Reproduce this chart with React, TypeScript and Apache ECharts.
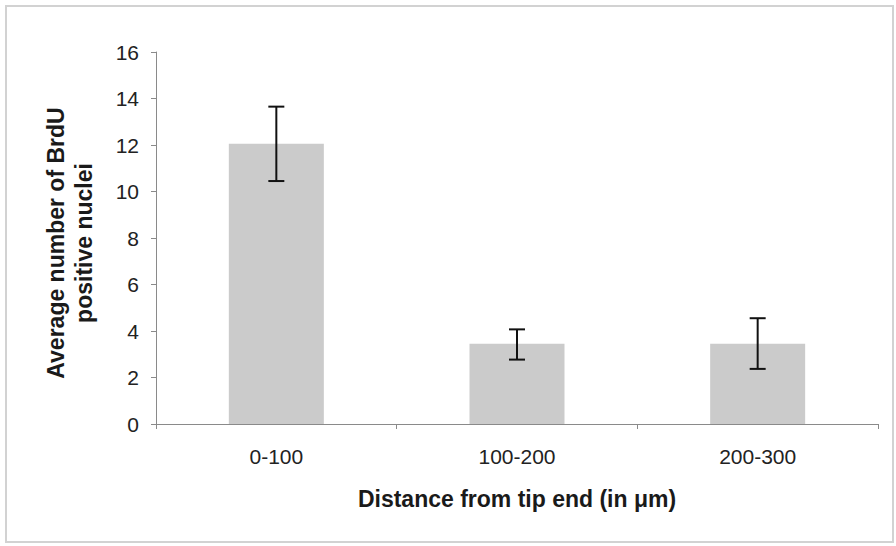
import React, { useEffect, useRef } from "react";
import * as echarts from "echarts";

const categories = ["0-100", "100-200", "200-300"];
const meanValues = [12.05, 3.45, 3.45];
const errorLow = [10.45, 2.77, 2.37];
const errorHigh = [13.65, 4.07, 4.55];

export default function App() {
  const ref = useRef<HTMLDivElement>(null);
  useEffect(() => {
    if (!ref.current) return;
    const chart = echarts.init(ref.current, null, { renderer: "svg" });
    const font = "'Liberation Sans', Arial, sans-serif";
    chart.setOption({
      animation: false,
      backgroundColor: "#ffffff",
      graphic: [
        {
          type: "rect",
          shape: { x: 6, y: 6, width: 887, height: 536 },
          style: { fill: "none", stroke: "#d2d2d2", lineWidth: 2 },
          silent: true,
        },
      ],
      grid: { left: 156, right: 18, top: 52, bottom: 122 },
      xAxis: {
        type: "category",
        data: categories,
        name: "Distance from tip end (in μm)",
        nameLocation: "middle",
        nameGap: 63,
        nameTextStyle: { fontFamily: font, fontWeight: "bold", fontSize: 23, color: "#1a1a1a" },
        axisLine: { lineStyle: { color: "#8a8a8a", width: 1 } },
        axisTick: { show: true, alignWithLabel: false, length: 5, lineStyle: { color: "#8a8a8a" } },
        axisLabel: { fontFamily: font, fontSize: 21, color: "#222", margin: 22 },
      },
      yAxis: {
        type: "value",
        min: 0,
        max: 16,
        interval: 2,
        name: "Average number of BrdU\npositive nuclei",
        nameLocation: "middle",
        nameGap: 58,
        nameTextStyle: {
          fontFamily: font,
          fontWeight: "bold",
          fontSize: 23,
          color: "#1a1a1a",
          lineHeight: 28,
          padding: [0, 10, 0, 0],
        },
        axisLine: { show: true, lineStyle: { color: "#8a8a8a", width: 1 } },
        axisTick: { show: true, length: 5, lineStyle: { color: "#8a8a8a" } },
        axisLabel: { fontFamily: font, fontSize: 21, color: "#222", margin: 17 },
        splitLine: { show: false },
      },
      series: [
        {
          type: "bar",
          data: meanValues,
          barWidth: 95,
          itemStyle: { color: "#cbcbcb" },
        },
        {
          type: "custom",
          data: categories.map((_, i) => [i, errorLow[i], errorHigh[i]]),
          renderItem: (params: any, api: any) => {
            const i = api.value(0);
            const lo = api.coord([i, api.value(1)]);
            const hi = api.coord([i, api.value(2)]);
            const half = 8;
            const style = { stroke: "#111", lineWidth: 2, fill: "none" };
            return {
              type: "group",
              children: [
                { type: "line", shape: { x1: hi[0], y1: hi[1], x2: lo[0], y2: lo[1] }, style },
                { type: "line", shape: { x1: hi[0] - half, y1: hi[1], x2: hi[0] + half, y2: hi[1] }, style },
                { type: "line", shape: { x1: lo[0] - half, y1: lo[1], x2: lo[0] + half, y2: lo[1] }, style },
              ],
            };
          },
          z: 10,
        },
      ],
    });
    return () => chart.dispose();
  }, []);
  return (
    <div
      ref={ref}
      style={{ position: "fixed", left: 0, top: 0, width: 896, height: 546 }}
    />
  );
}
